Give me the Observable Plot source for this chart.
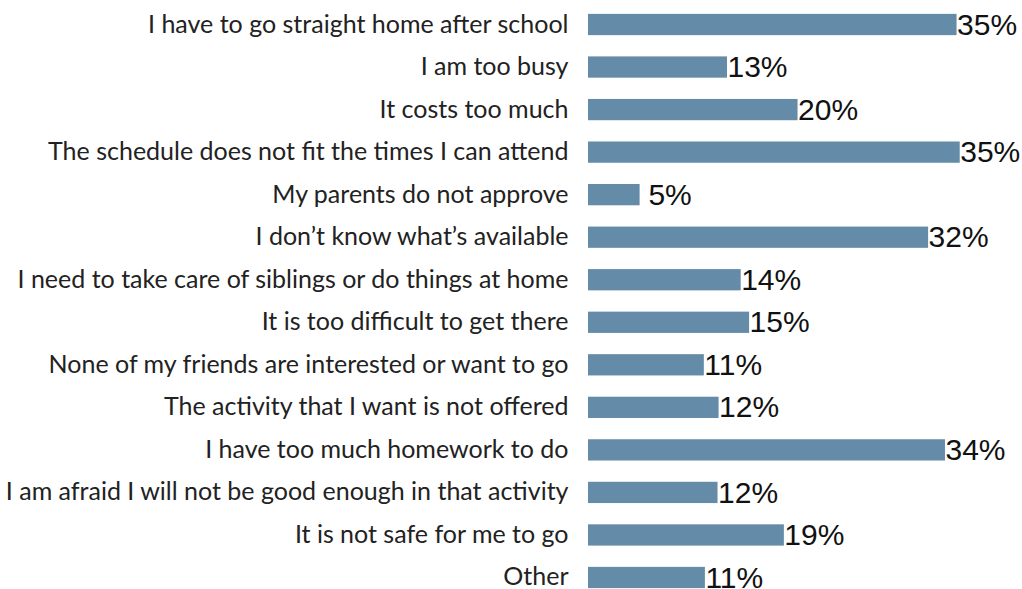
<!DOCTYPE html>
<html>
<head>
<meta charset="utf-8">
<script src="https://cdn.jsdelivr.net/npm/d3@7"></script>
<script src="https://cdn.jsdelivr.net/npm/@observablehq/plot@0.6"></script>
<style>
  html, body { margin: 0; padding: 0; background: #fff; }
  #chart svg { display: block; }
</style>
</head>
<body>
<div id="chart"></div>
<script>
const categories = [
  "I have to go straight home after school",
  "I am too busy",
  "It costs too much",
  "The schedule does not fit the times I can attend",
  "My parents do not approve",
  "I don\u2019t know what\u2019s available",
  "I need to take care of siblings or do things at home",
  "It is too difficult to get there",
  "None of my friends are interested or want to go",
  "The activity that I want is not offered",
  "I have too much homework to do",
  "I am afraid I will not be good enough in that activity",
  "It is not safe for me to go",
  "Other"
];
const values = [35.0, 13.2, 19.9, 35.3, 4.9, 32.3, 14.5, 15.3, 11.0, 12.4, 33.9, 12.3, 18.6, 11.1];
const valueLabels = ["35%", "13%", "20%", "35%", "\u00A05%", "32%", "14%", "15%", "11%", "12%", "34%", "12%", "19%", "11%"];

const data = categories.map((c, i) => ({category: c, value: values[i], label: valueLabels[i]}));

const chart = Plot.plot({
  width: 1022,
  height: 589,
  margin: 0,
  x: {domain: [0, 40], range: [588, 1009.2], axis: null},
  y: {domain: categories, range: [-7.4, 609.4], padding: 0.5, round: false, axis: null},
  marks: [
    Plot.barX(data, {y: "category", x: "value", fill: "#648BA8"}),
    Plot.text(data, {
      y: "category", x: 0, text: "category", textAnchor: "end", dx: -20, dy: -0.5,
      fontFamily: "Lato", fontSize: 25, fill: "#222"
    }),
    Plot.text(data, {
      y: "category", x: "value", text: "label", textAnchor: "start", dy: 0,
      fontFamily: "Liberation Sans, Arial, sans-serif", fontSize: 30, fill: "#111"
    })
  ]
});
document.getElementById("chart").appendChild(chart);
</script>
</body>
</html>
